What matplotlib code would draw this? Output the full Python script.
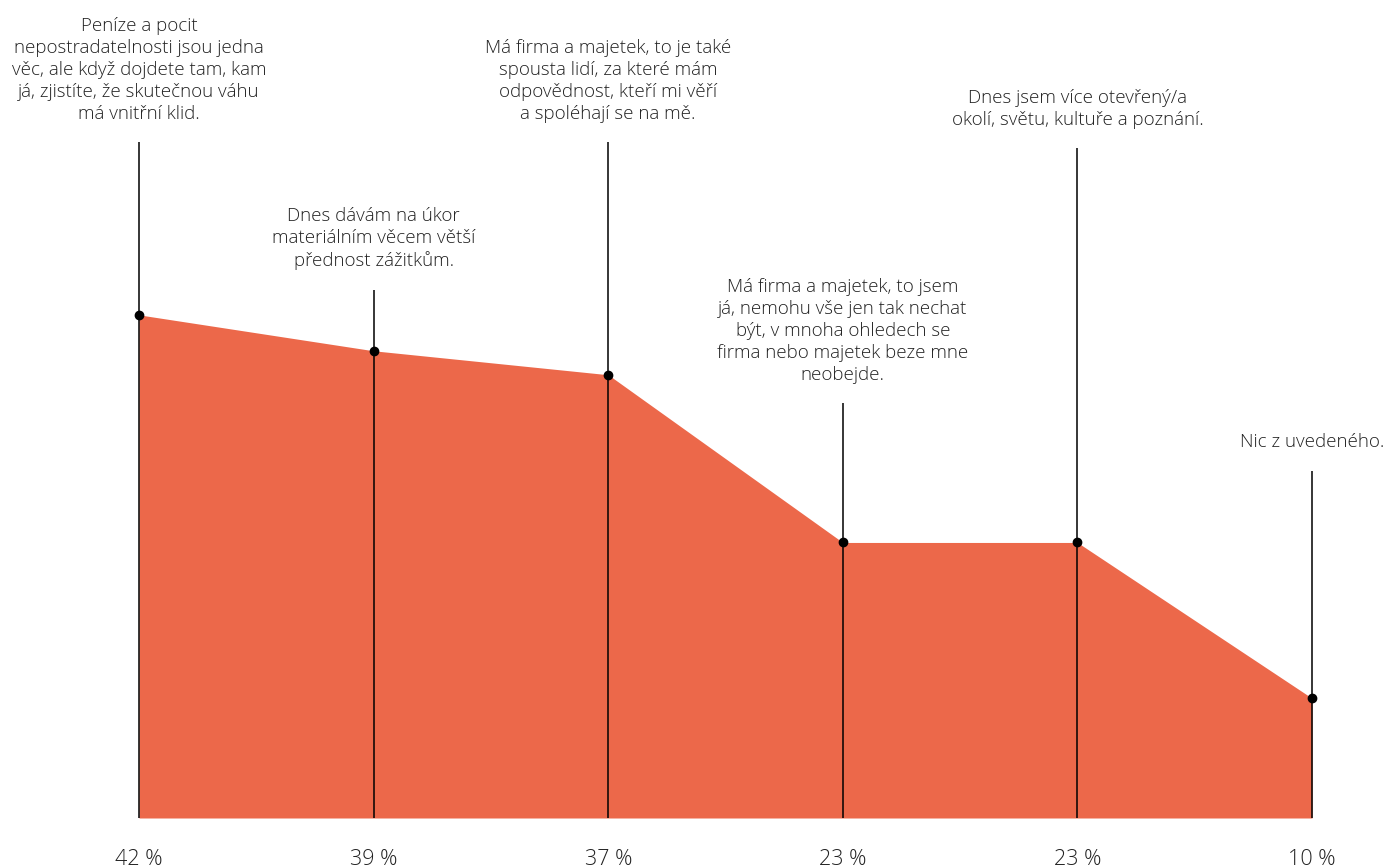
import matplotlib.pyplot as plt

# Survey answers and their share of respondents (%)
answers = [
    "Peníze a pocit\nnepostradatelnosti jsou jedna\nvěc, ale když dojdete tam, kam\njá, zjistíte, že skutečnou váhu\nmá vnitřní klid.",
    "Dnes dávám na úkor\nmateriálním věcem větší\npřednost zážitkům.",
    "Má firma a majetek, to je také\nspousta lidí, za které mám\nodpovědnost, kteří mi věří\na spoléhají se na mě.",
    "Má firma a majetek, to jsem\njá, nemohu vše jen tak nechat\nbýt, v mnoha ohledech se\nfirma nebo majetek beze mne\nneobejde.",
    "Dnes jsem více otevřený/a\nokolí, světu, kultuře a poznání.",
    "Nic z uvedeného.",
]
shares = [42, 39, 37, 23, 23, 10]
pct_labels = ["42 %", "39 %", "37 %", "23 %", "23 %", "10 %"]

# where each leader line ends (same units as the y axis)
stem_tops = [56.4, 44.1, 56.4, 34.6, 55.9, 29.0]

W, H = 1386, 868
fig = plt.figure(figsize=(W / 100, H / 100), dpi=100)
plt.rcParams["font.family"] = ["Open Sans", "DejaVu Sans"]

x0, x1, ybase = 139, 1312, 818
px_per_pct = 11.98
ax = fig.add_axes([x0 / W, (H - ybase) / H, (x1 - x0) / W, ybase / H])
xs = list(range(len(shares)))
ax.set_xlim(0, len(shares) - 1)
ax.set_ylim(0, ybase / px_per_pct)
ax.axis("off")

fill_color = "#EC684A"
ax.fill_between(xs, 0, shares, color=fill_color, lw=0, zorder=1)

for x, v, top, txt, lab in zip(xs, shares, stem_tops, answers, pct_labels):
    ax.plot([x, x], [0, top], color="black", lw=1.1, zorder=2,
            solid_capstyle="butt", clip_on=False)
    ax.plot(x, v, "o", color="black", ms=6, zorder=3, clip_on=False)
    ax.annotate(txt, (x, top), xytext=(0, 14), textcoords="offset points",
                ha="center", va="bottom", fontsize=13.5, color="#222222",
                linespacing=1.28, fontweight="light", annotation_clip=False)
    ax.annotate(lab, (x, 0), xytext=(0, -30), textcoords="offset points",
                ha="center", va="center", fontsize=15.5, color="#222222",
                fontweight="light", annotation_clip=False)

fig.savefig("out.png", dpi=100, facecolor="white")
